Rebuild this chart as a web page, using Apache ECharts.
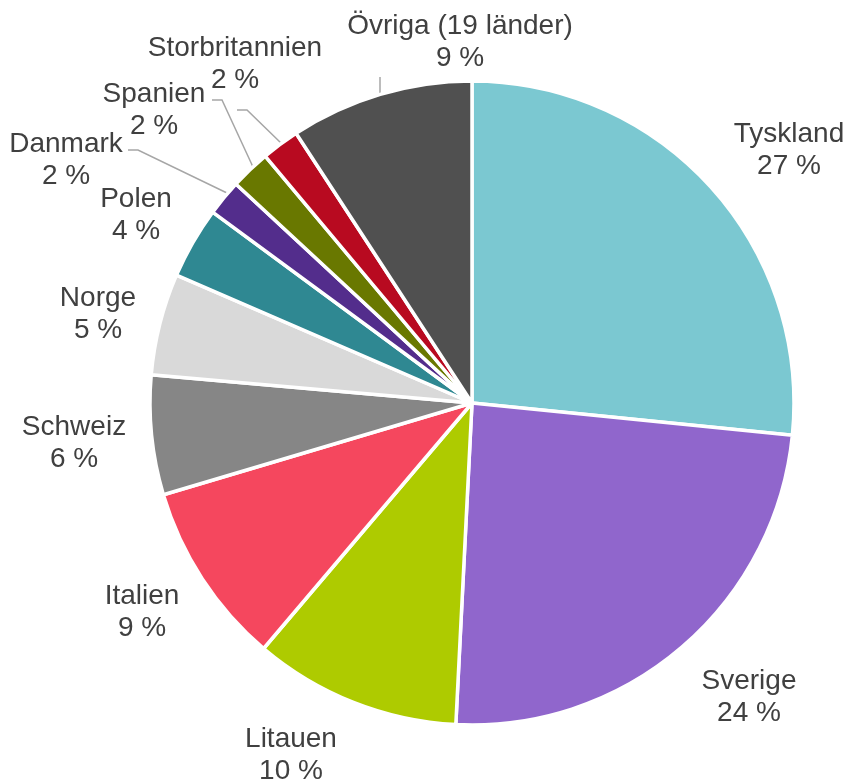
<!DOCTYPE html>
<html>
<head>
<meta charset="utf-8">
<script src="https://cdn.jsdelivr.net/npm/echarts@6/dist/echarts.min.js"></script>
<style>
html,body{margin:0;padding:0;background:#fff;}
#c{width:849px;height:782px;}
</style>
</head>
<body>
<div id="c"></div>
<script>
// Data (clockwise from 12 o'clock)
const countries = ['Tyskland','Sverige','Litauen','Italien','Schweiz','Norge','Polen','Danmark','Spanien','Storbritannien','Övriga (19 länder)'];
const shares = [26.6, 24.2, 10.4, 9.2, 6.0, 5.1, 3.6, 1.8, 2.0, 1.9, 9.2];
const colors = ['#7BC8D1','#9066CC','#AECB00','#F5475E','#868686','#D9D9D9','#2F8892','#532D8C','#697800','#B80A20','#505050'];
const withLeader = [false,false,false,false,false,false,false,true,true,true,true];

// label placement (text block centres, Excel-like layout) and leader-line routes
const labelPos = [[789,150],[749,697],[291,755],[142,612],[74,443],[98,314],[136,215],[66,160],[154,110],[235,64],[460,42]];
const leaderRoutes = {
  7:[[227,193],[138,150],[128,150]],
  8:[[253,167],[222,100],[212,100]],
  9:[[282,144],[247,110],[237,110]],
  10:[[380,96],[380,86],[380,77]]
};

const chart = echarts.init(document.getElementById('c'), null, {renderer:'canvas'});
const data = countries.map((n,i)=>({
  name:n, value:shares[i],
  itemStyle:{color:colors[i]},
  labelLine:{show:withLeader[i]}
}));
chart.setOption({
  animation:false,
  backgroundColor:'#ffffff',
  series:[{
    type:'pie',
    center:[472,403],
    radius:[0,322],
    startAngle:90,
    clockwise:true,
    avoidLabelOverlap:false,
    itemStyle:{borderColor:'#ffffff',borderWidth:3.5},
    emphasis:{disabled:true},
    label:{
      show:true,
      position:'outside',
      color:'#404040',
      fontFamily:'Liberation Sans, Arial, sans-serif',
      fontSize:28,
      lineHeight:32,
      formatter:p=>p.name+'\n'+Math.round(p.percent)+' %'
    },
    labelLine:{lineStyle:{color:'#A6A6A6',width:1.5}},
    labelLayout:function(params){
      const i = params.dataIndex;
      const p = labelPos[i];
      const r = {x:p[0], y:p[1], align:'center', verticalAlign:'middle'};
      if (leaderRoutes[i]) r.labelLinePoints = leaderRoutes[i];
      return r;
    },
    data:data
  }]
});
</script>
</body>
</html>
